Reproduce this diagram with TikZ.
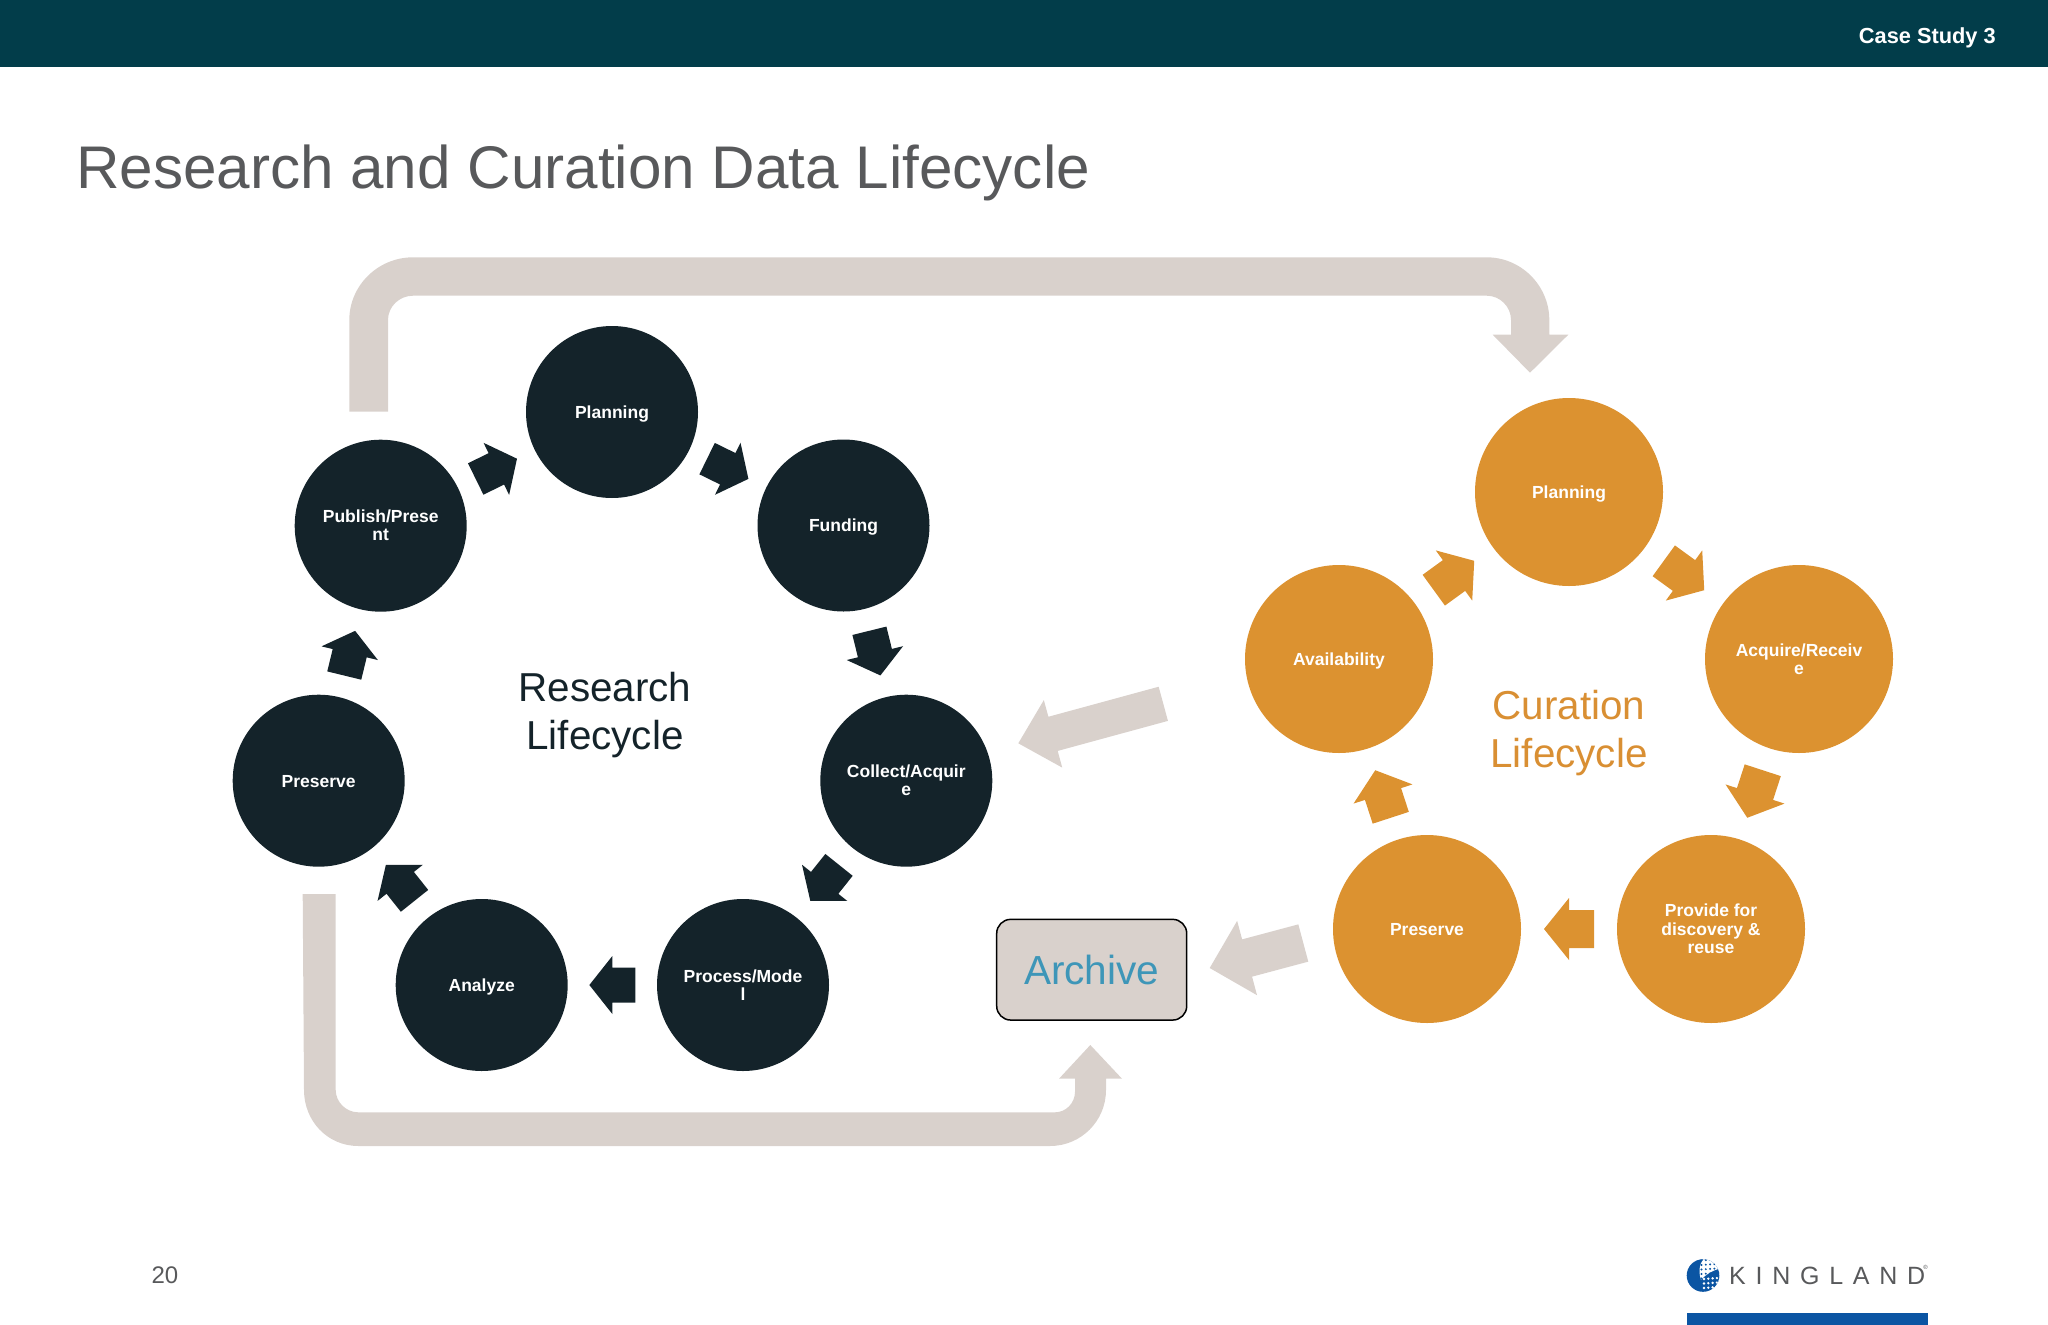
\documentclass[tikz,border=0pt]{standalone}
\usepackage{fontspec}
\setmainfont{Liberation Sans}
\newfontfamily\logofont[LetterSpace=39]{Liberation Sans}
\usetikzlibrary{calc}
\definecolor{headerc}{HTML}{023D4A}
\definecolor{titlec}{HTML}{58595B}
\definecolor{darkc}{HTML}{14232A}
\definecolor{orangec}{HTML}{DC9230}
\definecolor{orangetxt}{HTML}{D98F33}
\definecolor{greyc}{HTML}{D9D1CC}
\definecolor{archivec}{HTML}{3E96B8}
\definecolor{logoblue}{HTML}{0B55A3}
% style, tail, tip, half shaft, half head, head length
\newcommand\barrow[6]{%
  \fill[#1] ($(#2)!#4!90:(#3)$)
    -- ($(#3)!#6!(#2)!#4!-90:(#2)$)
    -- ($(#3)!#6!(#2)!#5!-90:(#2)$)
    -- (#3)
    -- ($(#3)!#6!(#2)!#5!90:(#2)$)
    -- ($(#3)!#6!(#2)!#4!90:(#2)$)
    -- ($(#2)!#4!-90:(#3)$) -- cycle;}
% style, from node, to node, half length, half shaft, half head, head length
\newcommand\ringarrow[7]{%
  \coordinate (rm) at ($(#2)!.5!(#3)$);
  \coordinate (rt) at ($(rm)!-#4!(#3)$);
  \coordinate (rh) at ($(rm)!#4!(#3)$);
  \barrow{#1}{rt}{rh}{#5}{#6}{#7}}
\tikzset{
  darkcircle/.style={circle,fill=darkc,minimum size=172pt,inner sep=0pt,text=white,align=center,font=\bfseries\fontsize{17.5}{18}\selectfont},
  orangecircle/.style={circle,fill=orangec,minimum size=188pt,inner sep=0pt,text=white,align=center,font=\bfseries\fontsize{17.5}{18.4}\selectfont},
  oneline/.style={text height=12.6pt,text depth=0pt},
  darkarrow/.style={darkc},
  orangearrow/.style={orangec},
  greyarrow/.style={greyc},
  bentbar/.style={fill=greyc},
  bigtext/.style={align=center,inner sep=0pt,font=\fontsize{40.4}{48}\selectfont},
}
\begin{document}
\begin{tikzpicture}[x=1pt,y=-1pt]
\useasboundingbox (0,0) rectangle (2048,1325);
\fill[headerc] (0,0) rectangle (2048,66.7);
\node[anchor=east,text=white,inner sep=0pt,font=\bfseries\fontsize{21.8}{24}\selectfont] (casestudy) at (1996,37.5) {Case Study 3};
\node[anchor=base west,text=titlec,inner sep=0pt,font=\fontsize{60.2}{60}\selectfont] (title) at (76,188) {Research and Curation Data Lifecycle};

% bent bars
\path[bentbar] (349.3,411.7) -- (349.3,320) .. controls (349.3,285.5) and (378,257.3) .. (413,257.3)
  -- (1486.7,257.3) .. controls (1521,257.3) and (1549.3,285.5) .. (1549.3,320)
  -- (1549.3,334.7) -- (1568.3,334.7) -- (1530,372.7) -- (1492.7,334.7) -- (1511,334.7) -- (1511,320)
  .. controls (1511,306.6) and (1500,295.7) .. (1486.7,295.7)
  -- (413,295.7) .. controls (399.3,295.7) and (388,306.6) .. (388,320) -- (388,411.7) -- cycle;
\path[bentbar] (302.7,894) -- (304,1090) .. controls (304,1121) and (327.5,1146) .. (358.3,1146)
  -- (1050,1146) .. controls (1081,1146) and (1106,1121) .. (1106,1090)
  -- (1106,1078.7) -- (1122,1078.7) -- (1090.3,1045) -- (1059,1078.7) -- (1075,1078.7) -- (1075,1091.7)
  .. controls (1075,1103) and (1066,1112.3) .. (1055,1112.3)
  -- (358.3,1112.3) .. controls (346,1112.3) and (335.7,1102) .. (335.7,1090) -- (335.7,894) -- cycle;

% research ring
\node[darkcircle,oneline] (rplan) at (612,412) {Planning};
\node[darkcircle,oneline] (rfund) at (843.5,525.5) {Funding};
\node[darkcircle] (rcoll) at (906.3,780.7) {Collect/Acquir\\e};
\node[darkcircle] (rproc) at (743,985) {Process/Mode\\l};
\node[darkcircle,oneline] (rana) at (481.7,985) {Analyze};
\node[darkcircle,oneline] (rpres) at (318.7,780.7) {Preserve};
\node[darkcircle] (rpub) at (380.7,525.7) {Publish/Prese\\nt};
\ringarrow{darkarrow}{rpub}{rplan}{23pt}{17.5pt}{29pt}{23pt}
\ringarrow{darkarrow}{rplan}{rfund}{23pt}{17.5pt}{29pt}{23pt}
\ringarrow{darkarrow}{rfund}{rcoll}{23pt}{17.5pt}{29pt}{23pt}
\ringarrow{darkarrow}{rcoll}{rproc}{23pt}{17.5pt}{29pt}{23pt}
\ringarrow{darkarrow}{rproc}{rana}{23pt}{17.5pt}{29pt}{23pt}
\ringarrow{darkarrow}{rana}{rpres}{23pt}{17.5pt}{29pt}{23pt}
\ringarrow{darkarrow}{rpres}{rpub}{23pt}{17.5pt}{29pt}{23pt}
\node[bigtext,text=darkc] (rlabel) at (605,715) {Research\\Lifecycle};

% curation ring
\node[orangecircle,oneline] (cplan) at (1569,492) {Planning};
\node[orangecircle] (cacq) at (1799,659) {Acquire/Receiv\\e};
\node[orangecircle] (cprov) at (1711,929) {Provide for\\discovery \&\\reuse};
\node[orangecircle,oneline] (cpres) at (1427,929) {Preserve};
\node[orangecircle,oneline] (cavail) at (1339,659) {Availability};
\ringarrow{orangearrow}{cavail}{cplan}{25pt}{19pt}{31pt}{25pt}
\ringarrow{orangearrow}{cplan}{cacq}{25pt}{19pt}{31pt}{25pt}
\ringarrow{orangearrow}{cacq}{cprov}{25pt}{19pt}{31pt}{25pt}
\ringarrow{orangearrow}{cprov}{cpres}{25pt}{19pt}{31pt}{25pt}
\ringarrow{orangearrow}{cpres}{cavail}{25pt}{19pt}{31pt}{25pt}
\node[bigtext,text=orangetxt] (clabel) at (1569,733) {Curation\\Lifecycle};

% archive
\node[draw=black,line width=1.5pt,fill=greyc,rounded corners=14pt,minimum width=190pt,minimum height=100.7pt,inner sep=0pt,text=archivec,font=\fontsize{40.6}{40}\selectfont] (archive) at (1091.7,969.7) {\raisebox{-1pt}{Archive}};
\coordinate (g1tail) at (1163.3,703.8);
\coordinate (g1tip) at (1018.3,743.3);
\barrow{greyarrow}{g1tail}{g1tip}{17.7pt}{35pt}{36pt}
\coordinate (g2tail) at (1303.3,943);
\coordinate (g2tip) at (1209.7,968);
\barrow{greyarrow}{g2tail}{g2tip}{19.3pt}{38.5pt}{38.7pt}

% footer
\node[text=titlec,inner sep=0pt,font=\fontsize{24}{24}\selectfont] (pageno) at (165,1275) {20};
\fill[logoblue] (1686.7,1313) rectangle (1928.3,1325);
\node[anchor=base west,inner sep=0pt,text=titlec,font=\logofont\fontsize{25}{25}\selectfont] (logotext) at (1729,1284) {KINGLAND};
\node[inner sep=0pt,text=titlec,font=\fontsize{6}{6}\selectfont] (logoreg) at (1925.5,1267) {®};
\fill[logoblue] (1703,1275.5) circle (16.3);
\begin{scope}
  \clip (1703,1275.5) circle (16.3);
  \fill[white] (1704,1258) .. controls (1698,1266) and (1699,1274) .. (1701,1280) .. controls (1704,1276) and (1712,1270) .. (1722,1268) -- (1722,1258) -- cycle;
  \foreach \i in {0,...,4}{\foreach \j in {0,...,5}{
    \fill[logoblue] ({1701.5+\i*4.3},{1260.5+\j*4.5-0.3*\i}) circle (1.1);}}
  \foreach \i in {0,...,3}{\foreach \j in {0,...,2}{
    \fill[white] ({1704+\i*4.3},{1279+\j*4.5-0.3*\i}) circle (1.3);}}
\end{scope}
\end{tikzpicture}
\end{document}
